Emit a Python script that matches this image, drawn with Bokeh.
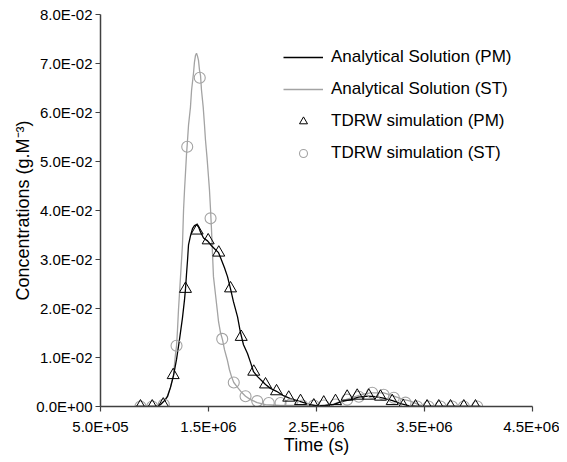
from bokeh.plotting import figure
from bokeh.models import Range1d, FixedTicker, Legend, LegendItem
from bokeh.embed import file_html
from bokeh.resources import INLINE

# ---- data ----
# Analytical solution (PM) - black curve
pm_t = [8.24e5, 1.009e6, 1.056e6, 1.093e6, 1.120e6, 1.148e6, 1.176e6, 1.204e6, 1.231e6, 1.259e6,
        1.278e6, 1.287e6, 1.296e6, 1.306e6, 1.315e6, 1.333e6, 1.352e6, 1.370e6, 1.389e6, 1.407e6,
        1.426e6, 1.454e6, 1.491e6, 1.528e6, 1.565e6, 1.593e6, 1.620e6, 1.648e6, 1.676e6, 1.704e6,
        1.731e6, 1.769e6, 1.796e6, 1.824e6, 1.861e6, 1.889e6, 1.917e6, 1.954e6, 1.991e6, 2.028e6,
        2.074e6, 2.130e6, 2.194e6, 2.259e6, 2.352e6, 2.444e6, 2.509e6, 2.583e6, 2.657e6, 2.731e6,
        2.815e6, 2.889e6, 2.972e6, 3.046e6, 3.120e6, 3.204e6, 3.278e6, 3.370e6, 3.463e6, 4.019e6]
pm_c = [0.0, 0.0, 0.0004, 0.0012, 0.0020, 0.0039, 0.0063, 0.0096, 0.0136, 0.0181,
        0.0218, 0.0240, 0.0269, 0.0299, 0.0330, 0.0348, 0.0363, 0.0369, 0.0371, 0.0367,
        0.0356, 0.0344, 0.0338, 0.0328, 0.0320, 0.0314, 0.0299, 0.0283, 0.0265, 0.0240,
        0.0214, 0.0183, 0.0151, 0.0126, 0.0108, 0.0090, 0.0071, 0.0061, 0.0053, 0.0045,
        0.0037, 0.0031, 0.0022, 0.0016, 0.0010, 0.0004, 0.0001, 0.0002, 0.0004, 0.0010,
        0.0014, 0.0019, 0.0021, 0.0020, 0.0017, 0.0012, 0.0006, 0.0001, 0.0, 0.0]

# Analytical solution (ST) - grey curve
st_t = [8.24e5, 1.009e6, 1.056e6, 1.093e6, 1.120e6, 1.148e6, 1.176e6, 1.194e6, 1.204e6, 1.213e6,
        1.222e6, 1.241e6, 1.259e6, 1.269e6, 1.278e6, 1.287e6, 1.296e6, 1.306e6, 1.315e6, 1.333e6,
        1.343e6, 1.361e6, 1.370e6, 1.380e6, 1.389e6, 1.398e6, 1.407e6, 1.417e6, 1.426e6, 1.435e6,
        1.451e6, 1.463e6, 1.472e6, 1.486e6, 1.497e6, 1.509e6, 1.519e6, 1.528e6, 1.546e6, 1.565e6,
        1.581e6, 1.593e6, 1.611e6, 1.630e6, 1.648e6, 1.673e6, 1.694e6, 1.713e6, 1.734e6, 1.769e6,
        1.806e6, 1.843e6, 1.889e6, 1.951e6, 2.028e6, 2.167e6, 2.352e6, 2.537e6, 2.657e6, 2.741e6,
        2.815e6, 2.907e6, 3.000e6, 3.123e6, 3.216e6, 3.296e6, 3.370e6, 3.444e6, 3.491e6, 4.019e6]
st_c = [0.0, 0.0, 0.0004, 0.0012, 0.0022, 0.0039, 0.0065, 0.0106, 0.0124, 0.0156,
        0.0197, 0.0265, 0.0330, 0.0401, 0.0442, 0.0477, 0.0513, 0.0544, 0.0574, 0.0611,
        0.0645, 0.0680, 0.0703, 0.0717, 0.0721, 0.0715, 0.0707, 0.0686, 0.0676, 0.0646,
        0.0611, 0.0574, 0.0544, 0.0509, 0.0477, 0.0442, 0.0401, 0.0360, 0.0265, 0.0228,
        0.0197, 0.0173, 0.0151, 0.0136, 0.0116, 0.0096, 0.0075, 0.0061, 0.0049, 0.0039,
        0.0029, 0.0021, 0.0014, 0.0008, 0.0004, 0.0002, 0.0002, 0.0002, 0.0005, 0.0012,
        0.0017, 0.0024, 0.0028, 0.0028, 0.0021, 0.0015, 0.0011, 0.0004, 0.0001, 0.0]

# TDRW simulation (PM) - triangles
tdrw_pm_t = [8.70e5, 9.79e5, 1.081e6, 1.173e6, 1.287e6, 1.395e6, 1.497e6, 1.595e6, 1.704e6, 1.803e6,
             1.919e6, 2.028e6, 2.130e6, 2.243e6, 2.352e6, 2.475e6, 2.567e6, 2.676e6, 2.784e6, 2.877e6,
             2.984e6, 3.093e6, 3.201e6, 3.303e6, 3.417e6, 3.524e6, 3.632e6, 3.741e6, 3.864e6, 3.972e6]
tdrw_pm_c = [0.0, 0.0, 0.0004, 0.0064, 0.0240, 0.0359, 0.0339, 0.0314, 0.0241, 0.0142,
             0.0071, 0.0045, 0.0031, 0.0018, 0.0011, 0.0002, 0.0008, 0.0011, 0.0020, 0.0022,
             0.0022, 0.0020, 0.0011, 0.0001, 0.0, 0.0, 0.0, 0.0, 0.0, 0.0]

# TDRW simulation (ST) - circles
tdrw_st_t = [8.70e5, 9.79e5, 1.086e6, 1.204e6, 1.303e6, 1.419e6, 1.519e6, 1.627e6, 1.734e6, 1.843e6,
             1.951e6, 2.058e6, 2.167e6, 2.259e6, 2.368e6, 2.475e6, 2.567e6, 2.676e6, 2.784e6, 2.892e6,
             3.016e6, 3.122e6, 3.216e6, 3.324e6, 3.432e6, 3.537e6, 3.648e6, 3.756e6, 3.864e6, 3.988e6]
tdrw_st_c = [0.0, 0.0, 0.0004, 0.0124, 0.0530, 0.0671, 0.0384, 0.0138, 0.0049, 0.0021,
             0.0011, 0.0007, 0.0007, 0.0004, 0.0002, 0.0002, 0.0002, 0.0004, 0.0014, 0.0020,
             0.0028, 0.0024, 0.0018, 0.0008, 0.0, 0.0, 0.0, 0.0, 0.0, 0.0]

x_ticks = [5e5, 1.5e6, 2.5e6, 3.5e6, 4.5e6]
x_tick_labels = ["5.0E+05", "1.5E+06", "2.5E+06", "3.5E+06", "4.5E+06"]
y_ticks = [0.0, 0.01, 0.02, 0.03, 0.04, 0.05, 0.06, 0.07, 0.08]
y_tick_labels = ["0.0E+00", "1.0E-02", "2.0E-02", "3.0E-02", "4.0E-02",
                 "5.0E-02", "6.0E-02", "7.0E-02", "8.0E-02"]

legend_labels = ["Analytical Solution (PM)", "Analytical Solution (ST)",
                 "TDRW simulation (PM)", "TDRW simulation (ST)"]

FONT = "Liberation Sans"
GREY = "#a3a3a3"

p = figure(width=559, height=457, output_backend="svg", toolbar_location=None,
           x_range=Range1d(5e5, 4.5e6), y_range=Range1d(0, 0.08),
           min_border_left=100, min_border_right=27, min_border_top=14, min_border_bottom=50)
p.outline_line_color = None
p.xgrid.visible = False
p.ygrid.visible = False
p.background_fill_color = "white"
p.border_fill_color = "white"

r_st = p.line(st_t, st_c, line_color=GREY, line_width=1.3)
r_pm = p.line(pm_t, pm_c, line_color="black", line_width=1.3)
r_cir = p.scatter(tdrw_st_t, tdrw_st_c, marker="circle", size=11, fill_color=None,
                  line_color=GREY, line_width=1.1)
r_tri = p.scatter(tdrw_pm_t, tdrw_pm_c, marker="triangle", size=12, fill_color=None,
                  line_color="black", line_width=1.0)

for ax, ticks, labels in ((p.xaxis[0], x_ticks, x_tick_labels), (p.yaxis[0], y_ticks, y_tick_labels)):
    ax.ticker = FixedTicker(ticks=ticks)
    ax.major_label_overrides = {t: l for t, l in zip(ticks, labels)}
    ax.minor_tick_line_color = None
    ax.major_tick_in = 0
    ax.major_tick_out = 5
    ax.axis_line_color = "#404040"
    ax.axis_line_width = 1.5
    ax.major_tick_line_color = "#404040"
    ax.major_tick_line_width = 1.2
    ax.major_label_text_font = FONT
    ax.major_label_text_font_size = "15px"
    ax.major_label_text_color = "black"
    ax.axis_label_text_font = FONT
    ax.axis_label_text_font_style = "normal"
    ax.axis_label_text_font_size = "18px"
    ax.axis_label_text_color = "black"

p.xaxis.axis_label = "Time (s)"
p.xaxis.major_label_standoff = 6
p.xaxis.axis_label_standoff = -3
p.yaxis.axis_label = "Concentrations (g.M\u207b\u00b3)"
p.yaxis.major_label_standoff = 3
p.yaxis.axis_label_standoff = 0

legend = Legend(items=[LegendItem(label=legend_labels[0], renderers=[r_pm]),
                       LegendItem(label=legend_labels[1], renderers=[r_st]),
                       LegendItem(label=legend_labels[2], renderers=[r_tri]),
                       LegendItem(label=legend_labels[3], renderers=[r_cir])],
                location=(183, 243))
legend.border_line_alpha = 0
legend.background_fill_alpha = 0
legend.padding = 0
legend.margin = 0
legend.glyph_width = 40
legend.glyph_height = 20
legend.label_height = 20
legend.spacing = 12
legend.label_standoff = 8
legend.label_text_font = FONT
legend.label_text_font_size = "17px"
legend.label_text_color = "black"
p.add_layout(legend, "center")

open("out.html", "w").write(file_html(p, INLINE))
